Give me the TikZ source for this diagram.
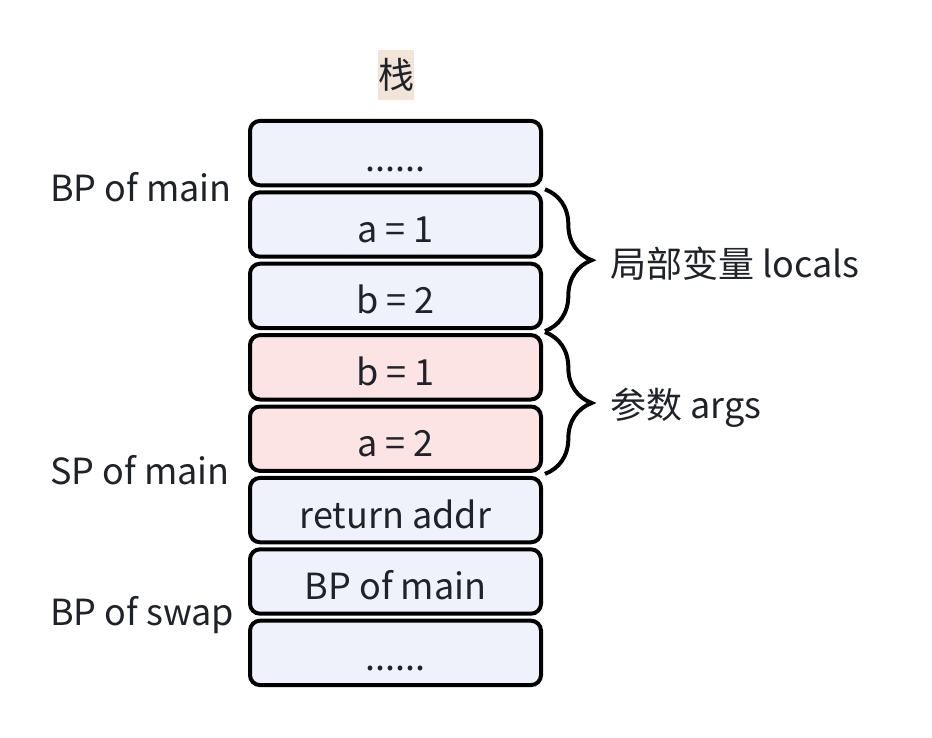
\documentclass[tikz,border=0pt]{standalone}
\usepackage{fontspec}
\setmainfont{Noto Sans CJK SC}
\usetikzlibrary{calc}
\usetikzlibrary{matrix}
\usetikzlibrary{positioning}
\usetikzlibrary{decorations.pathreplacing}

\definecolor{cellblue}{HTML}{EFF2FA}
\definecolor{cellpink}{HTML}{FDE4E4}
\definecolor{titlebg}{HTML}{F2E4D6}
\definecolor{ink}{HTML}{1F2329}

\begin{document}
\begin{tikzpicture}[x=0.75pt,y=-0.75pt,
    font=\fontsize{27}{32}\selectfont,text=ink,
    cell/.style={draw=black,line width=3pt,rounded corners=7.5pt,fill=cellblue,
      minimum width=218.25pt,minimum height=48.3pt,inner sep=0pt,
      text height=27pt,text depth=0pt},
    argcell/.style={cell,fill=cellpink},
    sidelabel/.style={anchor=base west,inner sep=0pt},
    stackbrace/.style={draw=black,line width=3pt,decorate,
      decoration={brace,amplitude=35pt}}]

  \useasboundingbox (0,0) rectangle (932,738);

  \node [fill=titlebg,inner xsep=0pt,minimum height=37.5pt] (title) at (396,75) {栈};

  \matrix [matrix of nodes,row sep=2.25pt,nodes={cell}] (stack) at (395.5,403) {
    |(dots_top)| ...... \\
    |(local_a)| a = 1 \\
    |(local_b)| b = 2 \\
    |[argcell] (arg_b)| b = 1 \\
    |[argcell] (arg_a)| a = 2 \\
    |(ret_addr)| return addr \\
    |(saved_bp)| BP of main \\
    |(dots_bottom)| ...... \\
  };

  \path [stackbrace]
    ($(local_a.north east)+(2,-1)$) -- ($(local_b.south east)+(2,1)$);
  \path [stackbrace]
    ($(arg_b.north east)+(2,-1)$) -- ($(arg_a.south east)+(2,1)$);

  \node [sidelabel] (bp_main) at (50,202) {BP of main};
  \node [sidelabel] (sp_main) at (50,484) {SP of main};
  \node [sidelabel] (bp_swap) at (50,625) {BP of swap};

  \node [sidelabel] (locals) at (610,277) {局部变量 locals};
  \node [sidelabel] (args) at (610,418) {参数 args};

\end{tikzpicture}
\end{document}
